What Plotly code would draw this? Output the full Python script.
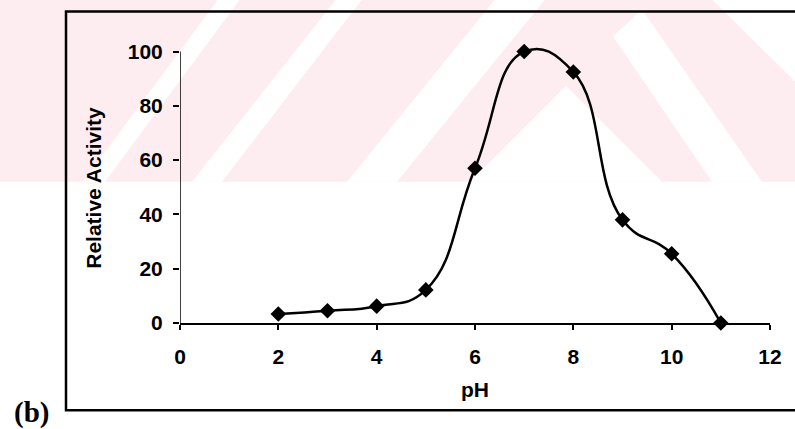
import plotly.graph_objects as go

# ---- data ----
ph = [2, 3, 4, 5, 6, 7, 8, 9, 10, 11]
activity = [3.3, 4.5, 6.2, 12.2, 57, 100, 92.5, 38, 25.5, 0]
x_ticks = [0, 2, 4, 6, 8, 10, 12]
y_ticks = [0, 20, 40, 60, 80, 100]

W, H = 795, 429
ML, MR, MB = 180, 25, 106
YMAX = 105
PX_PER_UNIT = 2.71
PLOT_H = YMAX * PX_PER_UNIT
MT = H - MB - PLOT_H
PLOT_W = W - ML - MR


def px(x):
    return (x - ML) / PLOT_W


def py(y):
    return 1 - (y - MT) / PLOT_H


def poly(points):
    d = "M " + " L ".join(f"{px(a):.5f},{py(b):.5f}" for a, b in points) + " Z"
    return d


PINK = "#fdedf0"
shapes = []
# watermark background band
shapes.append(dict(type="path", xref="paper", yref="paper", layer="below",
                   path=poly([(0, 0), (795, 0), (795, 182), (0, 182)]),
                   fillcolor=PINK, line=dict(width=0)))
white_polys = [
    [(218, 0), (240, 0), (105, 182), (83, 182)],
    [(336, 0), (362, 0), (222, 182), (192, 182)],
    [(495, 0), (545, 0), (397, 182), (347, 182)],
    [(470, 182), (566, 86), (662, 182)],
    [(613, 37), (642, 10), (762, 182), (712, 182)],
    [(712, 0), (795, 0), (795, 82)],
]
for p in white_polys:
    shapes.append(dict(type="path", xref="paper", yref="paper", layer="below",
                       path=poly(p), fillcolor="white", line=dict(width=0)))

# outer frame (right edge runs off the page)
shapes.append(dict(type="path", xref="paper", yref="paper", layer="above",
                   path="M %.5f,%.5f L %.5f,%.5f L %.5f,%.5f L %.5f,%.5f" % (
                       px(805), py(12), px(66), py(12), px(66), py(410), px(805), py(410)),
                   line=dict(color="black", width=2.5)))
# y axis line from 0 to 100
shapes.append(dict(type="line", xref="x", yref="y", x0=0, x1=0, y0=0, y1=100,
                   line=dict(color="black", width=1.5)))

fig = go.Figure()
fig.add_trace(go.Scatter(
    x=ph, y=activity, mode="lines+markers",
    line=dict(color="black", width=2.5, shape="spline", smoothing=1.3),
    marker=dict(symbol="diamond", size=12, color="black"),
    cliponaxis=False, showlegend=False,
))

FAM = "Arial, Liberation Sans, sans-serif"
TICKFONT = dict(family=FAM, size=21, color="black", weight="bold")

fig.update_layout(
    width=W, height=H,
    margin=dict(l=ML, r=MR, t=MT, b=MB, pad=0),
    paper_bgcolor="white", plot_bgcolor="rgba(0,0,0,0)",
    shapes=shapes,
    xaxis=dict(range=[0, 12], tickvals=x_ticks, showline=True, linecolor="black", linewidth=1.5,
               ticks="outside", ticklen=5, tickwidth=1.5, tickcolor="black",
               showgrid=False, zeroline=False, tickfont=TICKFONT, ticklabelstandoff=9),
    yaxis=dict(range=[0, YMAX], tickvals=y_ticks, showline=False,
               ticks="outside", ticklen=6, tickwidth=1.5, tickcolor="black",
               showgrid=False, zeroline=False, tickfont=TICKFONT, ticklabelstandoff=6),
    annotations=[
        dict(text="pH", xref="paper", yref="paper", x=px(475), y=py(389), showarrow=False,
             font=dict(family=FAM, size=21, color="black", weight="bold"),
             xanchor="center", yanchor="middle"),
        dict(text="Relative Activity", xref="paper", yref="paper", x=px(94), y=py(188), showarrow=False,
             textangle=-90,
             font=dict(family=FAM, size=21, color="black", weight="bold"),
             xanchor="center", yanchor="middle"),
        dict(text="(b)", xref="paper", yref="paper", x=px(31), y=py(412), showarrow=False,
             font=dict(family="Times New Roman, Liberation Serif, serif", size=29, color="black", weight="bold"),
             xanchor="center", yanchor="middle"),
    ],
)

fig.write_html("out.html")
